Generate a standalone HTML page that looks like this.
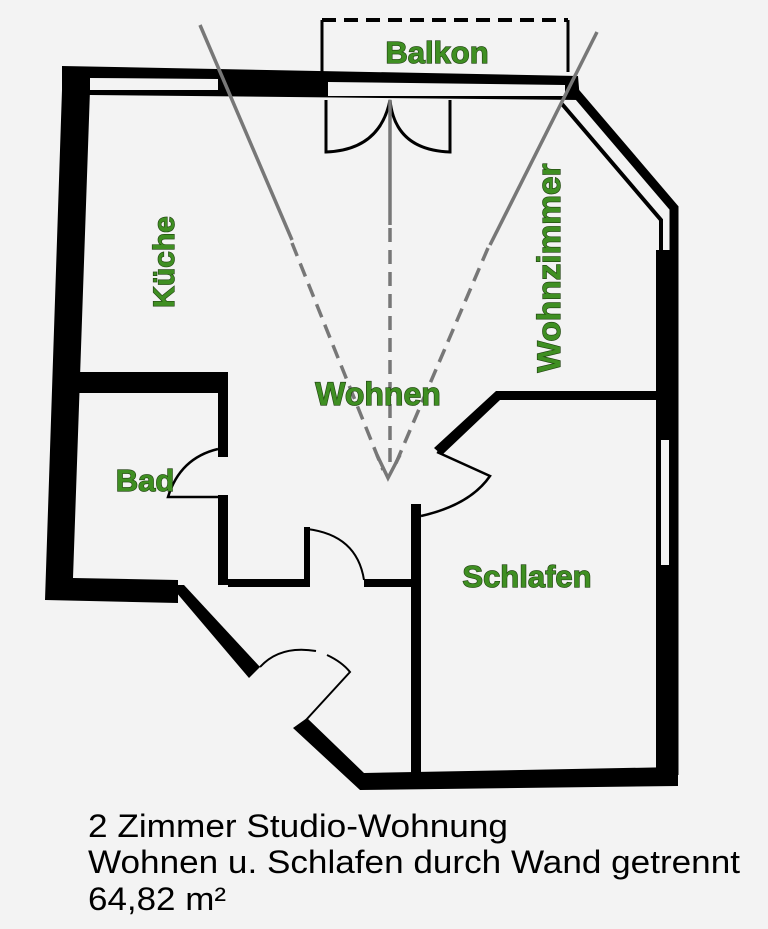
<!DOCTYPE html>
<html><head><meta charset="utf-8"><style>
html,body{margin:0;padding:0;background:#f3f3f3;}
svg{display:block}
.lbl{font-family:"Liberation Sans",sans-serif;font-weight:bold;fill:#3f8f22;stroke:#1d3d0e;stroke-width:1.2;paint-order:stroke;}
.cap{font-family:"Liberation Sans",sans-serif;fill:#000;font-size:32px;}
</style></head><body>
<svg width="768" height="929" viewBox="0 0 768 929" xmlns="http://www.w3.org/2000/svg">
<rect width="768" height="929" fill="#f3f3f3"/>
<!-- Balkon -->
<path d="M322,72 L322,20 M568,20 L568,72" stroke="#000" stroke-width="3" fill="none"/>
<line x1="322" y1="20" x2="568" y2="20" stroke="#000" stroke-width="4" stroke-dasharray="14,8"/>
<!-- top wall -->
<polygon points="62,66 578,76 580,100 90,95 62,96" fill="#000"/>
<polygon points="90,78 218,79 218,90 90,90" fill="#f3f3f3"/>
<polygon points="328,82 565,85 565,96 328,96" fill="#f3f3f3"/>
<!-- left wall -->
<polygon points="62,90 90,90 73,578 178,580 178,603 45,600" fill="#000"/>
<!-- top-right diagonal double line -->
<path d="M575,92 L674,208 L674,775" stroke="#000" stroke-width="9" fill="none"/>
<path d="M562,104 L661,220 L661,250" stroke="#000" stroke-width="4" fill="none"/>
<rect x="656" y="250" width="22" height="525" fill="#000"/>
<rect x="661" y="440" width="8" height="125" fill="#f3f3f3"/>
<!-- bottom-left diagonal -->
<polygon points="170,585 184,585 260,667 249,678" fill="#000"/>
<!-- entrance door -->
<path d="M260,667 Q280,645 316,651 M327,655 Q342,662 350,672 L306,720" stroke="#000" stroke-width="2" fill="none"/>
<!-- lower diagonal and bottom wall -->
<polygon points="293,728 307,718 364,773 678,767 678,786 360,790" fill="#000"/>
<!-- kitchen/bad wall -->
<rect x="78" y="372" width="150" height="21" fill="#000"/>
<rect x="218" y="390" width="10" height="67" fill="#000"/>
<rect x="218" y="495" width="10" height="90" fill="#000"/>
<path d="M218,449 Q180,458 168,497 L218,497" stroke="#000" stroke-width="2.5" fill="none"/>
<!-- hallway wall -->
<rect x="228" y="579" width="82" height="8" fill="#000"/>
<rect x="304" y="527" width="6" height="58" fill="#000"/>
<path d="M307,529 Q357,535 364,580" stroke="#000" stroke-width="2" fill="none"/>
<rect x="364" y="579" width="50" height="8" fill="#000"/>
<!-- schlafen walls -->
<rect x="411" y="504" width="10" height="273" fill="#000"/>
<polygon points="496,391 660,391 660,400 500,400 442,455 434,448" fill="#000"/>
<path d="M437,452 L490,476 Q470,505 421,516" stroke="#000" stroke-width="2.5" fill="none"/>
<!-- balcony doors -->
<path d="M326,100 L326,152 Q380,150 390,100 Q395,150 450,152 L450,100" stroke="#000" stroke-width="3" fill="none"/>
<!-- sight lines -->
<g stroke="#777" stroke-width="3.5" fill="none">
<line x1="200" y1="25" x2="292" y2="240"/>
<line x1="292" y1="243" x2="383" y2="470" stroke-dasharray="14,8"/>
<line x1="390" y1="100" x2="390" y2="225"/>
<line x1="390" y1="228" x2="390" y2="470" stroke-dasharray="14,8"/>
<line x1="597" y1="32" x2="490" y2="245"/>
<line x1="488" y1="248" x2="393" y2="470" stroke-dasharray="14,8"/>
<path d="M377,455 L388,478 L400,455"/>
</g>
<!-- labels -->
<text class="lbl" x="437" y="63" font-size="31" text-anchor="middle">Balkon</text>
<text class="lbl" font-size="30" transform="translate(174,262) rotate(-90)" text-anchor="middle">Küche</text>
<text class="lbl" font-size="32" transform="translate(560,268) rotate(-90)" text-anchor="middle" textLength="209" lengthAdjust="spacingAndGlyphs">Wohnzimmer</text>
<text class="lbl" x="378" y="405" font-size="32" text-anchor="middle">Wohnen</text>
<text class="lbl" x="145" y="491" font-size="31" text-anchor="middle">Bad</text>
<text class="lbl" x="527" y="587" font-size="31" text-anchor="middle">Schlafen</text>
<!-- caption -->
<text class="cap" x="88" y="837" textLength="420" lengthAdjust="spacingAndGlyphs">2 Zimmer Studio-Wohnung</text>
<text class="cap" x="88" y="873" textLength="652" lengthAdjust="spacingAndGlyphs">Wohnen u. Schlafen durch Wand getrennt</text>
<text class="cap" x="88" y="910" textLength="138" lengthAdjust="spacingAndGlyphs">64,82 m²</text>
</svg>
</body></html>
